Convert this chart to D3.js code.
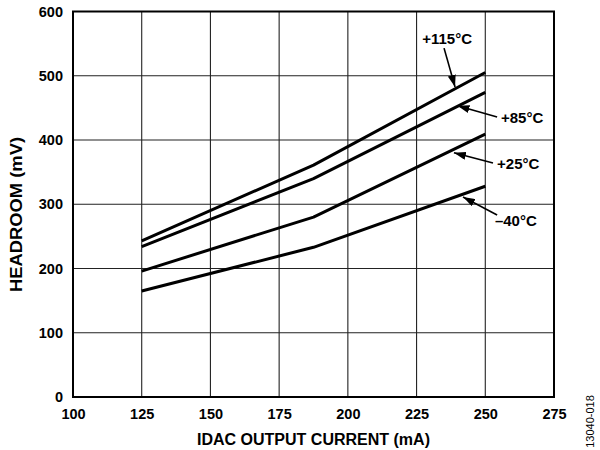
<!DOCTYPE html>
<html>
<head>
<meta charset="utf-8">
<script src="https://cdn.jsdelivr.net/npm/d3@7"></script>
<style>
  html, body { margin: 0; padding: 0; background: #fff; }
  svg { display: block; font-family: "Liberation Sans", Arial, Helvetica, sans-serif; }
</style>
</head>
<body>
<svg id="chart" width="600" height="450"></svg>
<script>
// ---- data ----
const currents = [125, 187.5, 250];              // IDAC output current (mA)
const headroom115 = [243, 361, 505];             // +115°C (mV)
const headroom85  = [234, 340, 474];             // +85°C
const headroom25  = [196, 280, 409];             // +25°C
const headroomM40 = [165, 233, 328];             // –40°C
const seriesNames = ["+115°C", "+85°C", "+25°C", "–40°C"];
const xTicks = [100, 125, 150, 175, 200, 225, 250, 275];
const yTicks = [0, 100, 200, 300, 400, 500, 600];
// annotation label positions and arrow (start -> tip) in data units
const labelX = [236.1, 255.7, 254.3, 253.5];
const labelY = [549.4, 426.5, 354.9, 266.6];
const labelAnchor = ["middle", "start", "start", "start"];
const arrowFromX = [235.0, 254.3, 252.8, 254.3];
const arrowFromY = [543, 435.8, 364.2, 283.3];
const arrowToX = [239.0, 239.9, 238.6, 241.9];
const arrowToY = [482.5, 453.2, 380.2, 311.3];

const series = [headroom115, headroom85, headroom25, headroomM40];

// ---- layout ----
const svg = d3.select("#chart");
const margin = { left: 73, top: 11.5, right: 46, bottom: 53 };
const W = 600, H = 450;
const x = d3.scaleLinear().domain([100, 275]).range([margin.left, W - margin.right]);
const y = d3.scaleLinear().domain([0, 600]).range([H - margin.bottom, margin.top]);

// grid
const grid = svg.append("g");
grid.selectAll("line.vg").data(xTicks.slice(1, -1)).join("line")
  .attr("x1", d => x(d)).attr("x2", d => x(d))
  .attr("y1", y(0)).attr("y2", y(600))
  .attr("stroke", "#222").attr("stroke-width", 1.1);
grid.selectAll("line.hg").data(yTicks.slice(1, -1)).join("line")
  .attr("y1", d => y(d)).attr("y2", d => y(d))
  .attr("x1", x(100)).attr("x2", x(275))
  .attr("stroke", "#222").attr("stroke-width", 1.1);

// axes tick labels via d3 axes (no tick lines)
const xAxis = d3.axisBottom(x).tickValues(xTicks).tickSize(0).tickPadding(12).tickFormat(d3.format("d"));
const gx = svg.append("g").attr("transform", `translate(0,${y(0)})`).call(xAxis);
gx.select(".domain").remove();
gx.selectAll("text").attr("font-size", 14.5).attr("font-weight", "bold").attr("fill", "#000")
  .attr("font-family", "'Liberation Sans', Arial, sans-serif");

const yAxis = d3.axisLeft(y).tickValues(yTicks).tickSize(0).tickPadding(10);
const gy = svg.append("g").attr("transform", `translate(${x(100)},0)`).call(yAxis);
gy.select(".domain").remove();
gy.selectAll("text").attr("font-size", 14.5).attr("font-weight", "bold").attr("fill", "#000")
  .attr("font-family", "'Liberation Sans', Arial, sans-serif");

// frame
svg.append("rect")
  .attr("x", x(100)).attr("y", y(600))
  .attr("width", x(275) - x(100)).attr("height", y(0) - y(600))
  .attr("fill", "none").attr("stroke", "#000").attr("stroke-width", 2);

// curves
const line = d3.line().x((d, i) => x(currents[i])).y(d => y(d));
svg.append("g").selectAll("path").data(series).join("path")
  .attr("d", d => line(d))
  .attr("fill", "none").attr("stroke", "#000").attr("stroke-width", 3)
  .attr("stroke-linejoin", "round");

// arrow marker
svg.append("defs").append("marker")
  .attr("id", "ah").attr("markerUnits", "userSpaceOnUse")
  .attr("viewBox", "0 0 12 8").attr("refX", 12).attr("refY", 4)
  .attr("markerWidth", 12).attr("markerHeight", 8).attr("orient", "auto")
  .append("path").attr("d", "M0,0 L12,4 L0,8 Z").attr("fill", "#000");

const ann = svg.append("g");
ann.selectAll("line").data(seriesNames).join("line")
  .attr("x1", (d, i) => x(arrowFromX[i])).attr("y1", (d, i) => y(arrowFromY[i]))
  .attr("x2", (d, i) => x(arrowToX[i])).attr("y2", (d, i) => y(arrowToY[i]))
  .attr("stroke", "#000").attr("stroke-width", 1.6)
  .attr("marker-end", "url(#ah)");
ann.selectAll("text").data(seriesNames).join("text")
  .attr("x", (d, i) => x(labelX[i])).attr("y", (d, i) => y(labelY[i]))
  .attr("text-anchor", (d, i) => labelAnchor[i])
  .attr("font-size", 15).attr("font-weight", "bold").attr("fill", "#000")
  .text(d => d);

// axis titles
svg.append("text")
  .attr("x", (x(100) + x(275)) / 2).attr("y", 445)
  .attr("text-anchor", "middle").attr("font-size", 16).attr("font-weight", "bold")
  .attr("textLength", 233).attr("lengthAdjust", "spacingAndGlyphs")
  .text("IDAC OUTPUT CURRENT (mA)");
svg.append("text")
  .attr("transform", `translate(21.5,${(137 + 292) / 2}) rotate(-90)`)
  .attr("text-anchor", "middle").attr("font-size", 16).attr("font-weight", "bold")
  .attr("textLength", 155).attr("lengthAdjust", "spacingAndGlyphs")
  .text("HEADROOM (mV)");

// figure id
svg.append("text")
  .attr("transform", `translate(594,421.5) rotate(-90)`)
  .attr("text-anchor", "middle").attr("font-size", 11).attr("fill", "#000")
  .text("13040-018");
</script>
</body>
</html>
